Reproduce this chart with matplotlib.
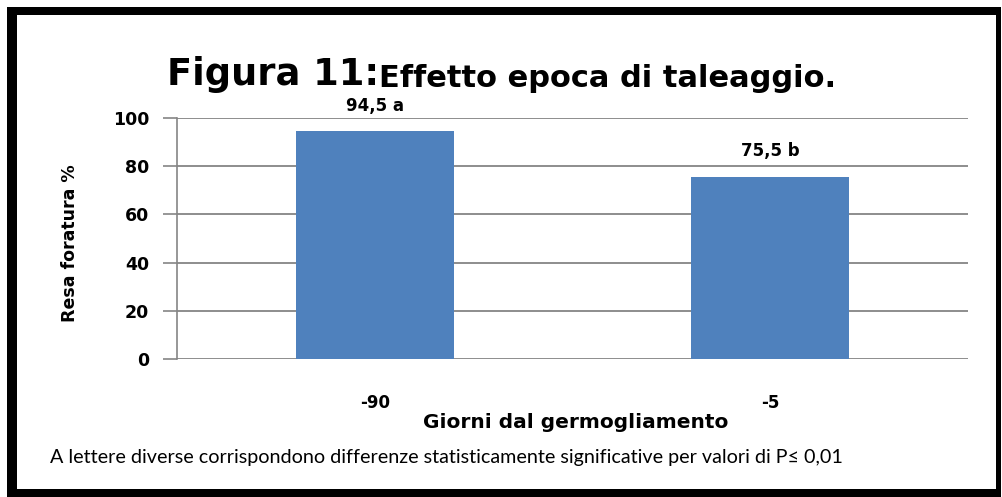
import matplotlib.pyplot as plt
from matplotlib.patches import Rectangle

# dati
giorni = ["-90", "-5"]
resa = [94.5, 75.5]
lettere = ["a", "b"]
yticks = [0, 20, 40, 60, 80, 100]

fig = plt.figure(figsize=(10.03, 4.97), dpi=100)
W, H = 1003, 497

# cornice nera
fig.patches.append(Rectangle((7 / W, 0), 994 / W, 490 / H, transform=fig.transFigure,
                             facecolor="black", edgecolor="none", zorder=-3))
fig.patches.append(Rectangle((17 / W, 8 / H), 979 / W, 474 / H, transform=fig.transFigure,
                             facecolor="white", edgecolor="none", zorder=-2))

ax = fig.add_axes([177 / W, (497 - 359) / H, (968 - 177) / W, (359 - 118) / H])
ax.set_facecolor("none")

x = range(len(giorni))
ax.bar(x, resa, width=0.4, color="#4F81BD", zorder=3)
ax.set_xlim(-0.5, 1.5)
ax.set_ylim(0, 100)
ax.set_yticks(yticks)
ax.set_yticklabels([str(v) for v in yticks], fontsize=12.5, fontweight="bold",
                   family="DejaVu Sans")
ax.set_xticks(list(x))
ax.set_xticklabels(giorni, fontsize=12, fontweight="bold", family="DejaVu Sans")
ax.tick_params(axis="x", length=0, pad=25)
ax.tick_params(axis="y", length=10, width=1.2, color="#858585", pad=10)
ax.yaxis.grid(True, color="#858585", linewidth=1.3, zorder=0)
ax.set_axisbelow(True)
for s in ["top", "right", "bottom"]:
    ax.spines[s].set_visible(False)
ax.spines["left"].set_color("#858585")
ax.spines["left"].set_linewidth(1.2)

# etichette dei valori
for i, (v, l) in enumerate(zip(resa, lettere)):
    ax.annotate(f"{v:.1f}".replace(".", ",") + " " + l, (i, v), xytext=(0, 12),
                textcoords="offset points", ha="center", va="bottom",
                fontsize=12, fontweight="bold", family="DejaVu Sans")

ax.set_xlabel("Giorni dal germogliamento", fontsize=14.5, fontweight="bold",
              family="DejaVu Sans", labelpad=0)
ax.xaxis.set_label_coords(0.504, -0.225)
ax.set_ylabel("Resa foratura %", fontsize=12.5, fontweight="bold", family="DejaVu Sans")
ax.yaxis.set_label_coords(-0.124, 0.48)

# titolo in due parti
t1 = fig.text(167 / W, (497 - 85) / H, "Figura 11:", fontsize=26.5, fontweight="bold",
              family="DejaVu Sans", va="baseline")
ax.annotate("Effetto epoca di taleaggio.", xy=(1, 0), xycoords=t1, va="bottom",
            fontsize=22, fontweight="bold", family="DejaVu Sans",
            annotation_clip=False)

fig.text(50 / W, (497 - 457) / H,
         "A lettere diverse corrispondono differenze statisticamente significative per valori di P\u2264 0,01",
         fontsize=14.2, family="Lato", va="center")

fig.savefig("out.png", dpi=100)
